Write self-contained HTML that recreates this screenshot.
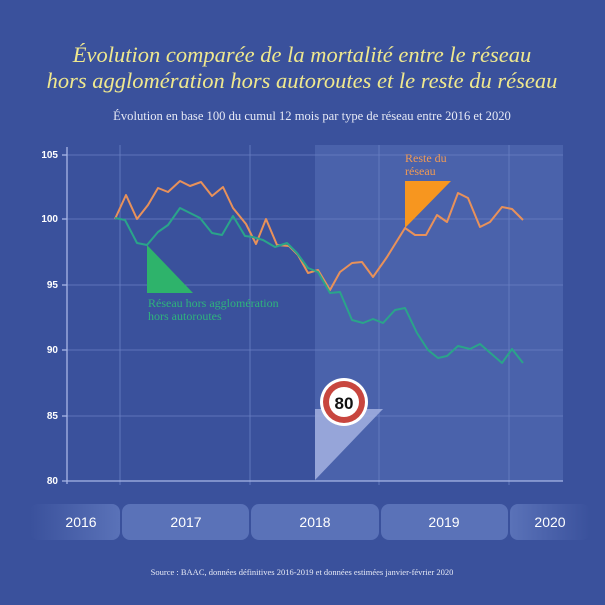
<!DOCTYPE html>
<html><head><meta charset="utf-8"><style>
html,body{margin:0;padding:0;background:#3a519c;}
svg{display:block}
</style></head><body>
<svg width="605" height="605" xmlns="http://www.w3.org/2000/svg">
<defs>
<linearGradient id="fl" x1="0" x2="1"><stop offset="0" stop-color="#5a72b8" stop-opacity="0"/><stop offset="1" stop-color="#5a72b8"/></linearGradient>
<linearGradient id="fr" x1="0" x2="1"><stop offset="0" stop-color="#5a72b8"/><stop offset="1" stop-color="#5a72b8" stop-opacity="0"/></linearGradient>
</defs>
<rect width="605" height="605" fill="#3a519c"/>
<text x="302" y="62" text-anchor="middle" font-family="Liberation Serif, serif" font-style="italic" font-size="22.5" fill="#efe88e">Évolution comparée de la mortalité entre le réseau</text>
<text x="302" y="88" text-anchor="middle" font-family="Liberation Serif, serif" font-style="italic" font-size="22.5" fill="#efe88e">hors agglomération hors autoroutes et le reste du réseau</text>
<text x="312" y="120" text-anchor="middle" font-family="Liberation Serif, serif" font-size="12.6" fill="#e6e9f5">Évolution en base 100 du cumul 12 mois par type de réseau entre 2016 et 2020</text>
<rect x="315" y="145" width="248" height="336" fill="#4a62ab"/>
<g stroke="#6a80c4" stroke-width="0.8">
<line x1="67" y1="155" x2="563" y2="155"/><line x1="67" y1="219" x2="563" y2="219"/><line x1="67" y1="285" x2="563" y2="285"/><line x1="67" y1="350" x2="563" y2="350"/><line x1="67" y1="416" x2="563" y2="416"/>
<line x1="120" y1="145" x2="120" y2="485"/><line x1="250" y1="145" x2="250" y2="485"/><line x1="379" y1="145" x2="379" y2="485"/><line x1="509" y1="145" x2="509" y2="485"/>
</g>
<g stroke="#a8b6e6" stroke-width="1.3"><line x1="67" y1="147" x2="67" y2="484"/><line x1="62" y1="481" x2="563" y2="481"/>
<line x1="62" y1="155" x2="67" y2="155"/><line x1="62" y1="219" x2="67" y2="219"/><line x1="62" y1="285" x2="67" y2="285"/><line x1="62" y1="350" x2="67" y2="350"/><line x1="62" y1="416" x2="67" y2="416"/></g>
<g font-family="Liberation Sans, sans-serif" font-weight="bold" font-size="10" fill="#fff" text-anchor="end">
<text x="58" y="158">105</text><text x="58" y="222">100</text><text x="58" y="288">95</text><text x="58" y="353">90</text><text x="58" y="419">85</text><text x="58" y="484">80</text></g>
<polygon points="315,409 383,409 315,480" fill="#a3b2e0" opacity="0.85"/>
<circle cx="344" cy="402" r="24" fill="#fff"/><circle cx="344" cy="402" r="21" fill="#c8463f"/><circle cx="344" cy="402" r="15" fill="#fff"/>
<text x="344" y="409" text-anchor="middle" font-family="Liberation Sans, sans-serif" font-weight="bold" font-size="17" fill="#111">80</text>
<polygon points="147,245 147,293 193,293" fill="#2eb36b"/>
<polygon points="405,228 405,181 451,181" fill="#f7961f"/>
<text font-family="Liberation Serif, serif" font-size="12" fill="#2fb47c"><tspan x="148" y="307">Réseau hors agglomération</tspan><tspan x="148" y="320">hors autoroutes</tspan></text>
<text font-family="Liberation Serif, serif" font-size="12" fill="#f09a55"><tspan x="405" y="162">Reste du</tspan><tspan x="405" y="175">réseau</tspan></text>
<polyline fill="none" stroke="#e8915a" stroke-width="2" stroke-linejoin="round" points="115,219 126,195 137,219 148,205 158,188 168,192 180,181 190,186 201,182 212,196 223,187 233,208 246,224 256,244 266,219 277,245 289,246 298,255 308,273 318,270 330,290 340,272 352,263 362,262 373,277 387,257 405,228 415,235 426,235 437,215 447,222 458,193 468,198 480,227 490,222 502,207 512,209 523,220"/>
<polyline fill="none" stroke="#2aa48a" stroke-width="2" stroke-linejoin="round" points="115,218 125,220 137,243 147,245 158,232 168,225 180,208 200,218 212,233 222,235 233,216 245,236 253,237 263,240 275,247 287,243 297,253 308,268 318,272 330,293 340,292 352,320 363,323 373,319 383,323 395,310 405,308 417,333 428,350 438,358 447,356 458,346 470,349 480,344 502,363 512,349 523,363"/>
<rect x="30" y="504" width="90" height="36" rx="8" fill="url(#fl)"/>
<rect x="122" y="504" width="127" height="36" rx="8" fill="#5a72b8"/>
<rect x="251" y="504" width="128" height="36" rx="8" fill="#5a72b8"/>
<rect x="381" y="504" width="127" height="36" rx="8" fill="#5a72b8"/>
<rect x="510" y="504" width="80" height="36" rx="8" fill="url(#fr)"/>
<g font-family="Liberation Sans, sans-serif" font-size="14" fill="#fff" text-anchor="middle">
<text x="81" y="527">2016</text><text x="186" y="527">2017</text><text x="315" y="527">2018</text><text x="444" y="527">2019</text><text x="550" y="527">2020</text></g>
<text x="302" y="575" text-anchor="middle" font-family="Liberation Serif, serif" font-size="8.5" fill="#e6e9f5">Source : BAAC, données définitives 2016-2019 et données estimées janvier-février 2020</text>
</svg>
</body></html>
